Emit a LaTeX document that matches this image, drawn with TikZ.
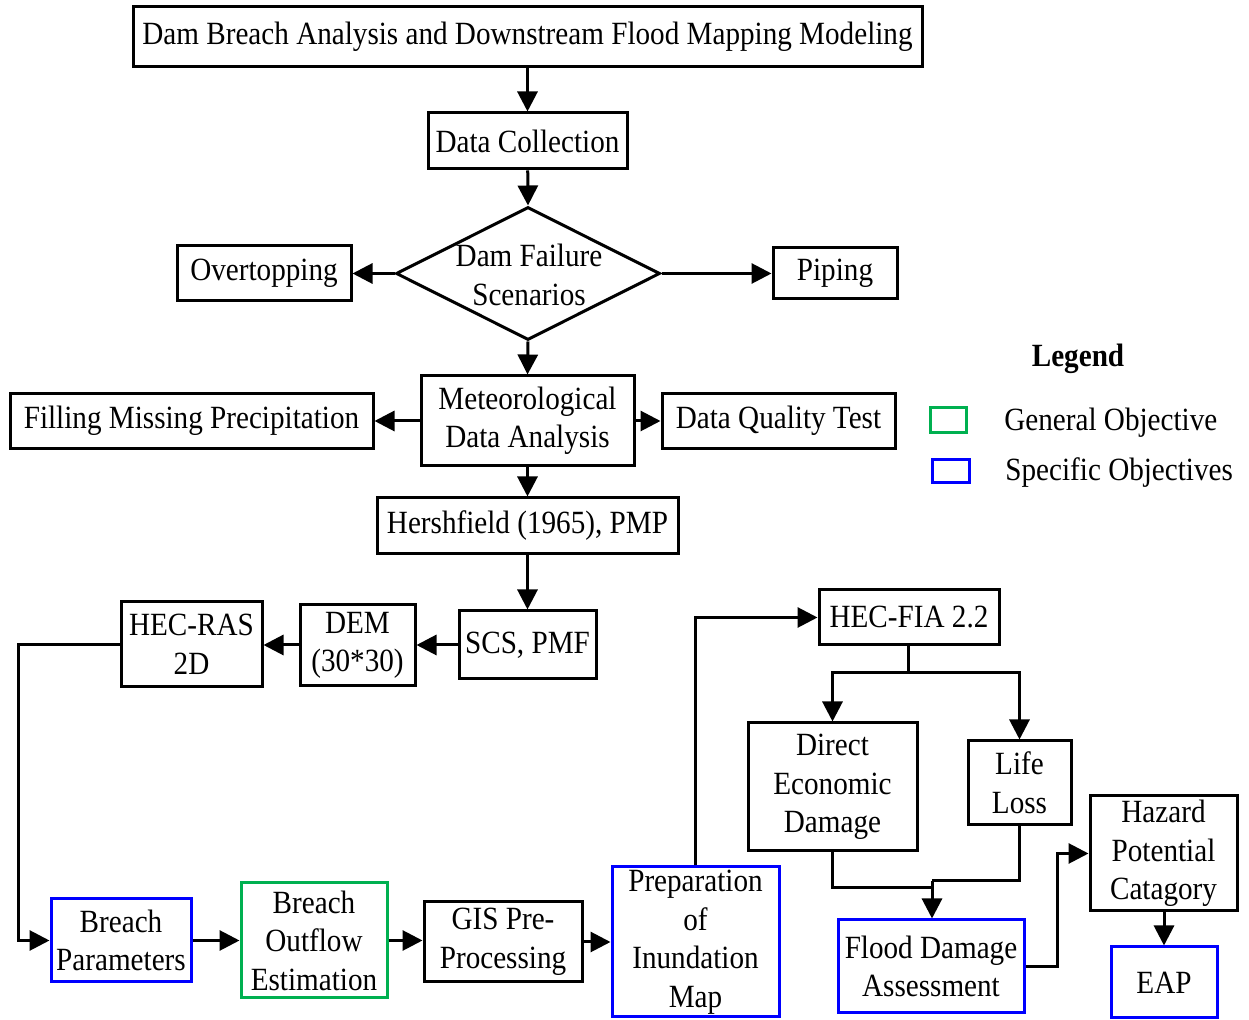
\documentclass[tikz,border=0pt]{standalone}
\usepackage{fontspec}
\setmainfont{Liberation Serif}[FakeStretch=0.9]
\usetikzlibrary{shapes.geometric,arrows.meta}
\definecolor{objgreen}{RGB}{0,176,80}
\definecolor{objblue}{RGB}{0,0,255}
\tikzset{
  every node/.style={font=\fontsize{16.2}{19.25}\selectfont, align=center, inner sep=0pt},
  box/.style={draw, line width=1.5pt, rectangle},
  sz/.style 2 args={minimum width=#1*0.5pt, minimum height=#2*0.5pt},
  general/.style={box, draw=objgreen},
  specific/.style={box, draw=objblue},
  flow/.style={line width=1.5pt, -{Triangle[length=10pt,width=10pt]}},
  wire/.style={line width=1.5pt}
}
\begin{document}
\begin{tikzpicture}[x=0.5pt,y=-0.5pt]
\useasboundingbox (0,0) rectangle (1249,1020);

% top of the chart
\node[box, sz={789}{60}] (title) at (527.5,37) {Dam Breach Analysis and Downstream Flood Mapping Modeling};
\node[box, sz={199}{56}] (dc) at (527.5,141) {Data Collection};
\node[draw, line width=1.5pt, diamond, sz={264}{133}] (scen) at (528,273.5) {};
\node (scentext) at (529,275) {Dam Failure\\Scenarios};
\node[box, sz={174}{55}] (over) at (264,273.5) {Overtopping};
\node[box, sz={124}{51}] (pip) at (835,273.5) {Piping};

% meteorological branch
\node[box, sz={213}{90}] (met) at (527.5,421) {Meteorological\\Data Analysis};
\node[box, sz={363}{55}] (fill) at (191.5,421) {Filling Missing Precipitation};
\node[box, sz={233}{55}] (dqt) at (778.5,421) {Data Quality Test};
\node[box, sz={301}{56}] (hersh) at (527.5,526) {Hershfield (1965), PMP};
\node[box, sz={137}{68}] (scs) at (527.5,645) {SCS, PMF};
\node[box, sz={115}{81}] (dem) at (357.5,645.5) {DEM\\(30*30)};
\node[box, sz={141}{85}] (ras) at (191.5,644.5) {HEC-RAS\\2D};

% bottom row
\node[specific, sz={140}{83}] (bp) at (121,940.5) {Breach\\Parameters};
\node[general, sz={146}{115}] (boe) at (314,940.5) {Breach\\Outflow\\Estimation};
\node[box, sz={158}{80}] (gis) at (503,942) {GIS Pre-\\Processing};
\node[specific, sz={167}{150}] (prep) at (695.5,942) {Preparation\\of\\Inundation\\Map};

% damage assessment
\node[box, sz={180}{55}] (fia) at (909,617.5) {HEC-FIA 2.2};
\node[box, sz={169}{128}] (ded) at (832.5,787) {Direct\\Economic\\Damage};
\node[box, sz={103}{84}] (life) at (1019.5,783) {Life\\Loss};
\node[specific, sz={186}{93}] (fda) at (931,966.5) {Flood Damage\\Assessment};
\node[box, sz={147}{115}] (haz) at (1163.5,853.5) {Hazard\\Potential\\Catagory};
\node[specific, sz={106}{71}] (eap) at (1164,982.5) {EAP};

% legend
\node[font=\fontsize{16.2}{19.25}\selectfont\bfseries] (legtitle) at (1078,359) {Legend};
\node[general, sz={36}{25}] (leggen) at (948,420.5) {};
\node[specific, sz={37}{23}] (legspec) at (950.5,471.5) {};
\node[anchor=west] (leggentext) at (1004,423) {General Objective};
\node[anchor=west] (legspectext) at (1005,473) {Specific Objectives};

% connectors
\draw[flow] (title) -- (dc);
\draw[flow] (dc) -- (scen.north);
\draw[flow] (scen.west) -- (over.east);
\draw[flow] (scen.east) -- (pip.west);
\draw[flow] (scen.south) -- (met.north);
\draw[flow] (met.west) -- (fill.east);
\draw[flow] (met.east) -- (dqt.west);
\draw[flow] (met) -- (hersh);
\draw[flow] (hersh) -- (scs);
\draw[flow] (scs.west) -- (scs.west -| dem.east);
\draw[flow] (dem.west |- scs.west) -- (scs.west -| ras.east);
\coordinate (rasturn) at (18,645);
\draw[flow] (ras.west |- rasturn) -- (rasturn) |- (bp.west);
\draw[flow] (bp) -- (boe);
\draw[flow] (boe.east) -- (boe.east -| gis.west);
\draw[flow] (gis) -- (prep);
\draw[flow] (prep.north) |- (fia.west);
\coordinate (fiasplit) at (908,673);
\draw[wire] (fia.south -| fiasplit) -- (fiasplit);
\draw[flow] (fiasplit) -| (ded.north);
\draw[flow] (fiasplit) -| (life.north);
\coordinate (dedjoin) at (932,888);
\coordinate (lifejoin) at (932,881);
\draw[wire] (ded.south) |- (dedjoin);
\draw[wire] (life.south) |- (lifejoin);
\draw[flow] (lifejoin) -- (fda.north -| lifejoin);
\coordinate (fdaturn) at (1057,967);
\draw[flow] (fda.east |- fdaturn) -- (fdaturn) |- (haz.west);
\draw[flow] (haz.south -| eap.north) -- (eap.north);
\end{tikzpicture}
\end{document}
